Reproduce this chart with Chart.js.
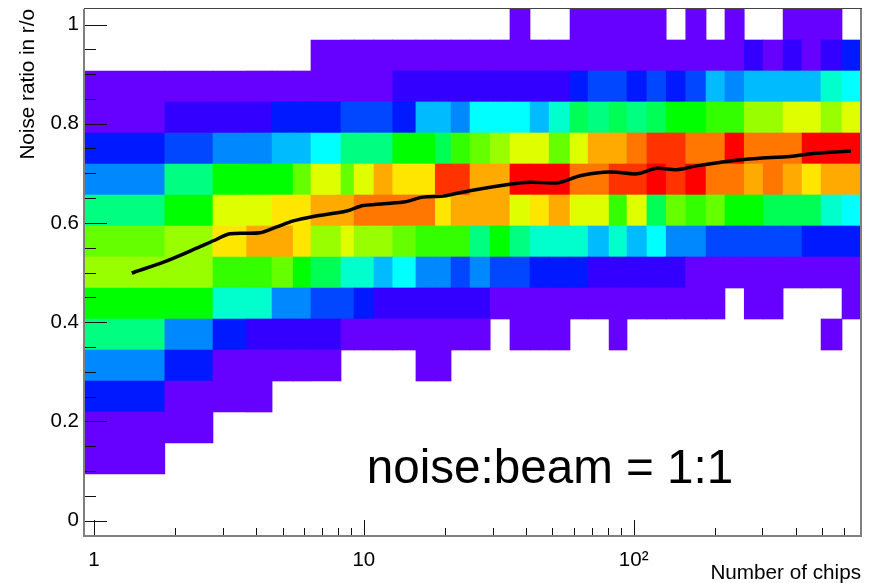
<!DOCTYPE html>
<html>
<head>
<meta charset="utf-8">
<title>Noise ratio in r/o</title>
<script src="https://cdn.jsdelivr.net/npm/chart.js@4/dist/chart.umd.min.js"></script>
<style>
  html, body { margin: 0; background: #fff; }
  canvas { display: block; }
</style>
</head>
<body>
<canvas id="chart" width="869" height="583"></canvas>
<script>
const _ = null;

// bin edges of the number of chips (log spaced, snapped by ROOT)
const xEdges = [0.918, 1.83, 2.76, 3.68, 4.57, 5.47, 6.37, 8.23, 9.2, 10.9, 12.8, 15.6, 18.4, 21.05, 24.75, 29.4, 34.8, 41.3, 48.6, 58.1, 67.8, 81.1, 94.5, 112, 132, 156, 185.5, 218, 257, 302, 358, 421, 495, 592, 696];

// row centres, top row first
const yCenters = [1, 0.9375, 0.875, 0.8125, 0.75, 0.6875, 0.625, 0.5625, 0.5, 0.4375, 0.375, 0.3125, 0.25, 0.1875, 0.125];

// colour level of each cell (index in palette), null = empty bin
const levels = [
  [_,_,_,_,_,_,_,_,_,_,_,_,_,_,_,_,0,_,_,0,0,0,0,0,_,0,_,0,_,_,0,0,0,_],
  [_,_,_,_,_,_,0,0,0,0,0,0,0,0,0,0,0,0,0,0,0,0,0,0,0,0,0,0,1,0,1,0,1,2],
  [0,0,0,0,0,0,0,0,0,0,1,1,1,1,1,1,1,1,1,2,3,3,2,3,2,3,5,4,5,5,5,5,7,6],
  [0,1,1,1,2,2,2,3,3,3,2,5,5,4,6,6,6,5,7,9,8,9,8,9,10,10,11,11,13,13,14,14,13,14],
  [2,3,4,4,5,5,6,8,8,8,10,10,9,11,12,13,14,14,12,14,16,16,17,18,18,17,17,19,17,17,17,19,19,19],
  [4,8,10,10,10,12,14,12,14,16,15,15,18,18,16,16,19,19,19,17,17,18,18,19,18,19,17,17,16,17,16,15,16,16],
  [8,10,14,14,15,15,16,16,17,17,17,17,15,16,16,16,14,15,16,14,14,11,14,9,12,11,12,10,10,9,9,9,7,6],
  [12,13,15,16,16,15,13,14,13,13,12,11,11,11,8,10,8,7,7,7,5,7,5,6,4,4,3,3,3,3,3,2,2,2],
  [13,13,11,11,12,10,9,7,7,5,6,4,4,3,4,3,3,2,2,2,1,1,1,1,1,0,0,0,0,0,0,0,0,0],
  [10,10,7,7,4,4,3,3,2,1,1,1,1,1,1,0,0,0,0,0,0,0,0,0,0,0,0,_,0,0,_,_,_,0],
  [8,4,2,1,1,1,1,0,0,0,0,0,0,0,0,_,0,0,0,_,_,0,_,_,_,_,_,_,_,_,_,_,0,_],
  [4,2,0,0,0,0,0,_,_,_,_,0,0],
  [2,0,0,0],
  [0,0],
  [0]
];

// mean noise ratio per number of chips
const meanX = [1.38, 1.83, 2.4, 2.77, 3.19, 4.12, 4.76, 5.48, 6.5, 8.64, 9.96, 14, 16.6, 19.7, 24.7, 34.8, 41.3, 52.6, 63.3, 77.2, 86.6, 103, 122, 144, 171, 228, 286, 380, 463, 639];
const meanY = [0.499, 0.522, 0.549, 0.564, 0.578, 0.58, 0.592, 0.604, 0.613, 0.624, 0.635, 0.642, 0.652, 0.654, 0.665, 0.678, 0.682, 0.681, 0.695, 0.702, 0.702, 0.699, 0.71, 0.707, 0.715, 0.725, 0.73, 0.734, 0.74, 0.745];

const xMajor = [1, 10, 100];
const xLabels = ['1', '10', '10²'];
const xMinor = [2, 3, 4, 5, 6, 7, 8, 9, 20, 30, 40, 50, 60, 70, 80, 90, 200, 300, 400, 500, 600];
const yMajor = [0, 0.2, 0.4, 0.6, 0.8, 1];
const yLabels = ['0', '0.2', '0.4', '0.6', '0.8', '1'];
const yMinor = [0.05, 0.1, 0.15, 0.25, 0.3, 0.35, 0.45, 0.5, 0.55, 0.65, 0.7, 0.75, 0.85, 0.9, 0.95];

const palette = ['#6600ff', '#3300ff', '#0019ff', '#0047ff', '#0088ff', '#00bcff', '#00ffff', '#00ffcc', '#00ff80', '#00ff55', '#00ff00', '#33ff00', '#66ff00', '#99ff00', '#dfff00', '#ffe600', '#ffaa00', '#ff7700', '#ff3300', '#ff0000'];

const cells = [];
levels.forEach((row, r) => {
  row.forEach((level, c) => {
    if (level === null) return;
    cells.push({ x: [xEdges[c], xEdges[c + 1]], y: yCenters[r], level });
  });
});

const fontName = '"Liberation Sans", Arial, sans-serif';

// ROOT style frame, inward ticks and the label inside the pad
const rootPad = {
  id: 'rootPad',
  afterDraw(chart) {
    const { ctx, chartArea: a, scales: { x, y } } = chart;
    ctx.save();
    ctx.strokeStyle = '#111';
    ctx.lineWidth = 1;
    ctx.beginPath();
    const yTick = (v, len) => {
      const p = Math.round(y.getPixelForValue(v)) + 0.5;
      ctx.moveTo(a.left, p);
      ctx.lineTo(a.left + len, p);
    };
    const xTick = (v, len) => {
      const p = Math.round(x.getPixelForValue(v)) + 0.5;
      ctx.moveTo(p, a.bottom);
      ctx.lineTo(p, a.bottom - len);
    };
    yMajor.forEach(v => yTick(v, 23));
    yMinor.forEach(v => yTick(v, 12));
    xMajor.forEach(v => xTick(v, 16));
    xMinor.forEach(v => xTick(v, 8));
    ctx.stroke();

    ctx.lineWidth = 2;
    ctx.strokeStyle = '#808080';
    ctx.beginPath();
    ctx.moveTo(a.left, a.top);
    ctx.lineTo(a.left, a.bottom);
    ctx.lineTo(a.right, a.bottom);
    ctx.lineTo(a.right, a.top);
    ctx.stroke();
    ctx.lineWidth = 1;
    ctx.strokeStyle = '#444';
    ctx.beginPath();
    ctx.moveTo(a.left, a.top - 0.5);
    ctx.lineTo(a.right + 1, a.top - 0.5);
    ctx.stroke();

    ctx.fillStyle = '#000';
    ctx.font = '47.6px ' + fontName;
    ctx.textBaseline = 'alphabetic';
    ctx.fillText('noise:beam = 1:1', x.getPixelForValue(10.25), y.getPixelForValue(0.075));
    ctx.restore();
  }
};

new Chart(document.getElementById('chart'), {
  type: 'bar',
  data: {
    datasets: [
      {
        type: 'line',
        data: meanX.map((v, i) => ({ x: v, y: meanY[i] })),
        borderColor: '#000',
        borderWidth: 3.5,
        pointRadius: 0,
        tension: 0.3,
        fill: false,
        order: 0
      },
      {
        type: 'bar',
        indexAxis: 'y',
        data: cells,
        backgroundColor: ctx => palette[ctx.raw.level],
        borderWidth: 0,
        barPercentage: 1,
        categoryPercentage: 1,
        order: 1
      }
    ]
  },
  options: {
    responsive: false,
    animation: false,
    layout: { padding: { top: 9, right: 8, left: 0, bottom: 0 } },
    plugins: { legend: { display: false }, tooltip: { enabled: false } },
    scales: {
      x: {
        type: 'logarithmic',
        min: 0.918,
        max: 696,
        offset: false,
        grid: { display: false, drawTicks: false },
        border: { display: false },
        afterBuildTicks: s => { s.ticks = xMajor.map(v => ({ value: v })); },
        afterFit: s => { s.height = 47; s.paddingLeft = 0; s.paddingRight = 0; },
        ticks: {
          autoSkip: false,
          maxRotation: 0,
          padding: 12,
          color: '#000',
          font: { family: fontName, size: 20.5 },
          callback: (v, i) => xLabels[i]
        },
        title: {
          display: true,
          text: 'Number of chips',
          align: 'end',
          color: '#000',
          font: { family: fontName, size: 20.7 },
          padding: { top: 0, bottom: -3 }
        }
      },
      y: {
        type: 'linear',
        min: -0.03125,
        max: 1.03125,
        offset: false,
        grid: { display: false, drawTicks: false },
        border: { display: false },
        afterBuildTicks: s => { s.ticks = yMajor.map(v => ({ value: v })); },
        afterFit: s => { s.width = 84; s.paddingTop = 0; s.paddingBottom = 0; },
        ticks: {
          padding: 5,
          color: '#000',
          font: { family: fontName, size: 20.5 },
          callback: (v, i) => yLabels[i]
        },
        title: {
          display: true,
          text: 'Noise ratio in r/o',
          align: 'end',
          color: '#000',
          font: { family: fontName, size: 20.7 },
          padding: { top: 16, bottom: 0 }
        }
      }
    }
  },
  plugins: [rootPad]
});
</script>
</body>
</html>
